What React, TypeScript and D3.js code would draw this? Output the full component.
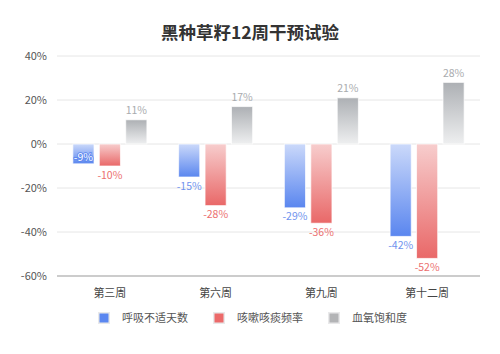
import { useEffect, useRef } from 'react';
import * as d3 from 'd3';

const categories = ['第三周', '第六周', '第九周', '第十二周'];
const seriesNames = ['呼吸不适天数', '咳嗽咳痰频率', '血氧饱和度'];
const breathing = [-9, -15, -29, -42];
const cough = [-10, -28, -36, -52];
const oxygen = [11, 17, 21, 28];
const yTicks = [40, 20, 0, -20, -40, -60];

const seriesValues = [breathing, cough, oxygen];
const palette = [
  { dark: '#5a86ef', light: '#cbd9fa', text: '#6f93ee', legend: '#5b87f0' },
  { dark: '#e96868', light: '#f7cdcd', text: '#ec6f6f', legend: '#ec6a6a' },
  { dark: '#adb0b4', light: '#eeeff0', text: '#a9abae', legend: '#b3b4b6' },
];

const W = 500;
const H = 354;
const margin = { left: 57, right: 20, top: 56, bottom: 78 };

export default function App() {
  const svgRef = useRef<SVGSVGElement>(null);

  useEffect(() => {
    if (!svgRef.current) return;
    const svg = d3.select(svgRef.current);
    svg.selectAll('*').remove();

    const font = '"Noto Sans CJK SC", "Noto Sans", sans-serif';
    const x0 = d3.scaleBand().domain(categories).range([margin.left, W - margin.right]).paddingInner(0.3).paddingOuter(0.15);
    const x1 = d3.scaleBand().domain(seriesNames).range([0, x0.bandwidth()]).paddingInner(0.2);
    const y = d3.scaleLinear().domain([-60, 40]).range([H - margin.bottom, margin.top]);

    const defs = svg.append('defs');
    palette.forEach((p, i) => {
      // dark at the value end, light at zero
      const neg = i < 2;
      const g = defs.append('linearGradient').attr('id', `grad${i}`)
        .attr('x1', 0).attr('y1', 0).attr('x2', 0).attr('y2', 1);
      g.append('stop').attr('offset', '0%').attr('stop-color', neg ? p.light : p.dark);
      g.append('stop').attr('offset', '100%').attr('stop-color', neg ? p.dark : p.light);
    });

    // title
    svg.append('text')
      .attr('x', W / 2).attr('y', 39)
      .attr('text-anchor', 'middle')
      .attr('font-family', font).attr('font-size', 17.5).attr('font-weight', 700)
      .attr('fill', '#333').text('黑种草籽12周干预试验');

    // grid
    svg.append('g').selectAll('line').data(yTicks.filter(t => t !== -60)).enter().append('line')
      .attr('x1', margin.left).attr('x2', W - margin.right)
      .attr('y1', d => y(d)).attr('y2', d => y(d))
      .attr('stroke', '#e6e6e6').attr('stroke-width', 1);

    svg.append('line')
      .attr('x1', margin.left).attr('x2', W - margin.right)
      .attr('y1', y(-60)).attr('y2', y(-60))
      .attr('stroke', '#9a9a9a').attr('stroke-width', 1.2);

    svg.append('g').selectAll('text').data(yTicks).enter().append('text')
      .attr('x', margin.left - 10).attr('y', d => y(d)).attr('dy', '0.35em')
      .attr('text-anchor', 'end').attr('font-family', font).attr('font-size', 11)
      .attr('fill', '#555').text(d => `${d}%`);

    // category labels
    svg.append('g').selectAll('text').data(categories).enter().append('text')
      .attr('x', d => (x0(d) || 0) + x0.bandwidth() / 2)
      .attr('y', y(-60) + 17).attr('dy', '0.35em')
      .attr('text-anchor', 'middle').attr('font-family', font).attr('font-size', 11)
      .attr('fill', '#444').text(d => d);

    // bars
    seriesValues.forEach((vals, si) => {
      const name = seriesNames[si];
      const gs = svg.append('g');
      gs.selectAll('rect').data(vals).enter().append('rect')
        .attr('x', (d, i) => (x0(categories[i]) || 0) + (x1(name) || 0))
        .attr('width', x1.bandwidth())
        .attr('y', d => y(Math.max(0, d)))
        .attr('height', d => Math.abs(y(d) - y(0)))
        .attr('fill', `url(#grad${si})`)
        .attr('stroke', '#fff').attr('stroke-opacity', 0.7).attr('stroke-width', 1);

      // short blue bar gets its label inside
      const inside = (d: number) => si === 0 && d > -10;
      gs.selectAll('text').data(vals).enter().append('text')
        .attr('x', (d, i) => (x0(categories[i]) || 0) + (x1(name) || 0) + x1.bandwidth() / 2)
        .attr('y', d => {
          if (d >= 0) return y(d) - 9;
          if (inside(d)) return y(d) - 6;
          return y(d) + 9;
        })
        .attr('dy', '0.35em')
        .attr('text-anchor', 'middle').attr('font-family', font).attr('font-size', 10.5)
        .attr('fill', d => (inside(d) ? '#fff' : palette[si].text))
        .attr('stroke', d => (inside(d) ? palette[si].dark : 'none'))
        .attr('stroke-width', 1.6)
        .attr('paint-order', 'stroke')
        .text(d => `${d}%`);
    });

    // legend
    const legendY = 318;
    const lg = svg.append('g').selectAll('g').data(seriesNames).enter().append('g')
      .attr('transform', (d, i) => `translate(${99 + i * 115}, ${legendY})`);
    lg.append('rect').attr('x', -1).attr('y', -6).attr('width', 12).attr('height', 12)
      .attr('fill', '#e9e9ea');
    lg.append('rect').attr('x', 0.5).attr('y', -4.5).attr('width', 9).attr('height', 9)
      .attr('fill', (d, i) => palette[i].legend);
    lg.append('text').attr('x', 23).attr('y', 0).attr('dy', '0.35em')
      .attr('font-family', font).attr('font-size', 11).attr('fill', '#555')
      .text(d => d);
  }, []);

  return <svg ref={svgRef} width={W} height={H} style={{ display: 'block', margin: -8, background: '#fff' }} />;
}
